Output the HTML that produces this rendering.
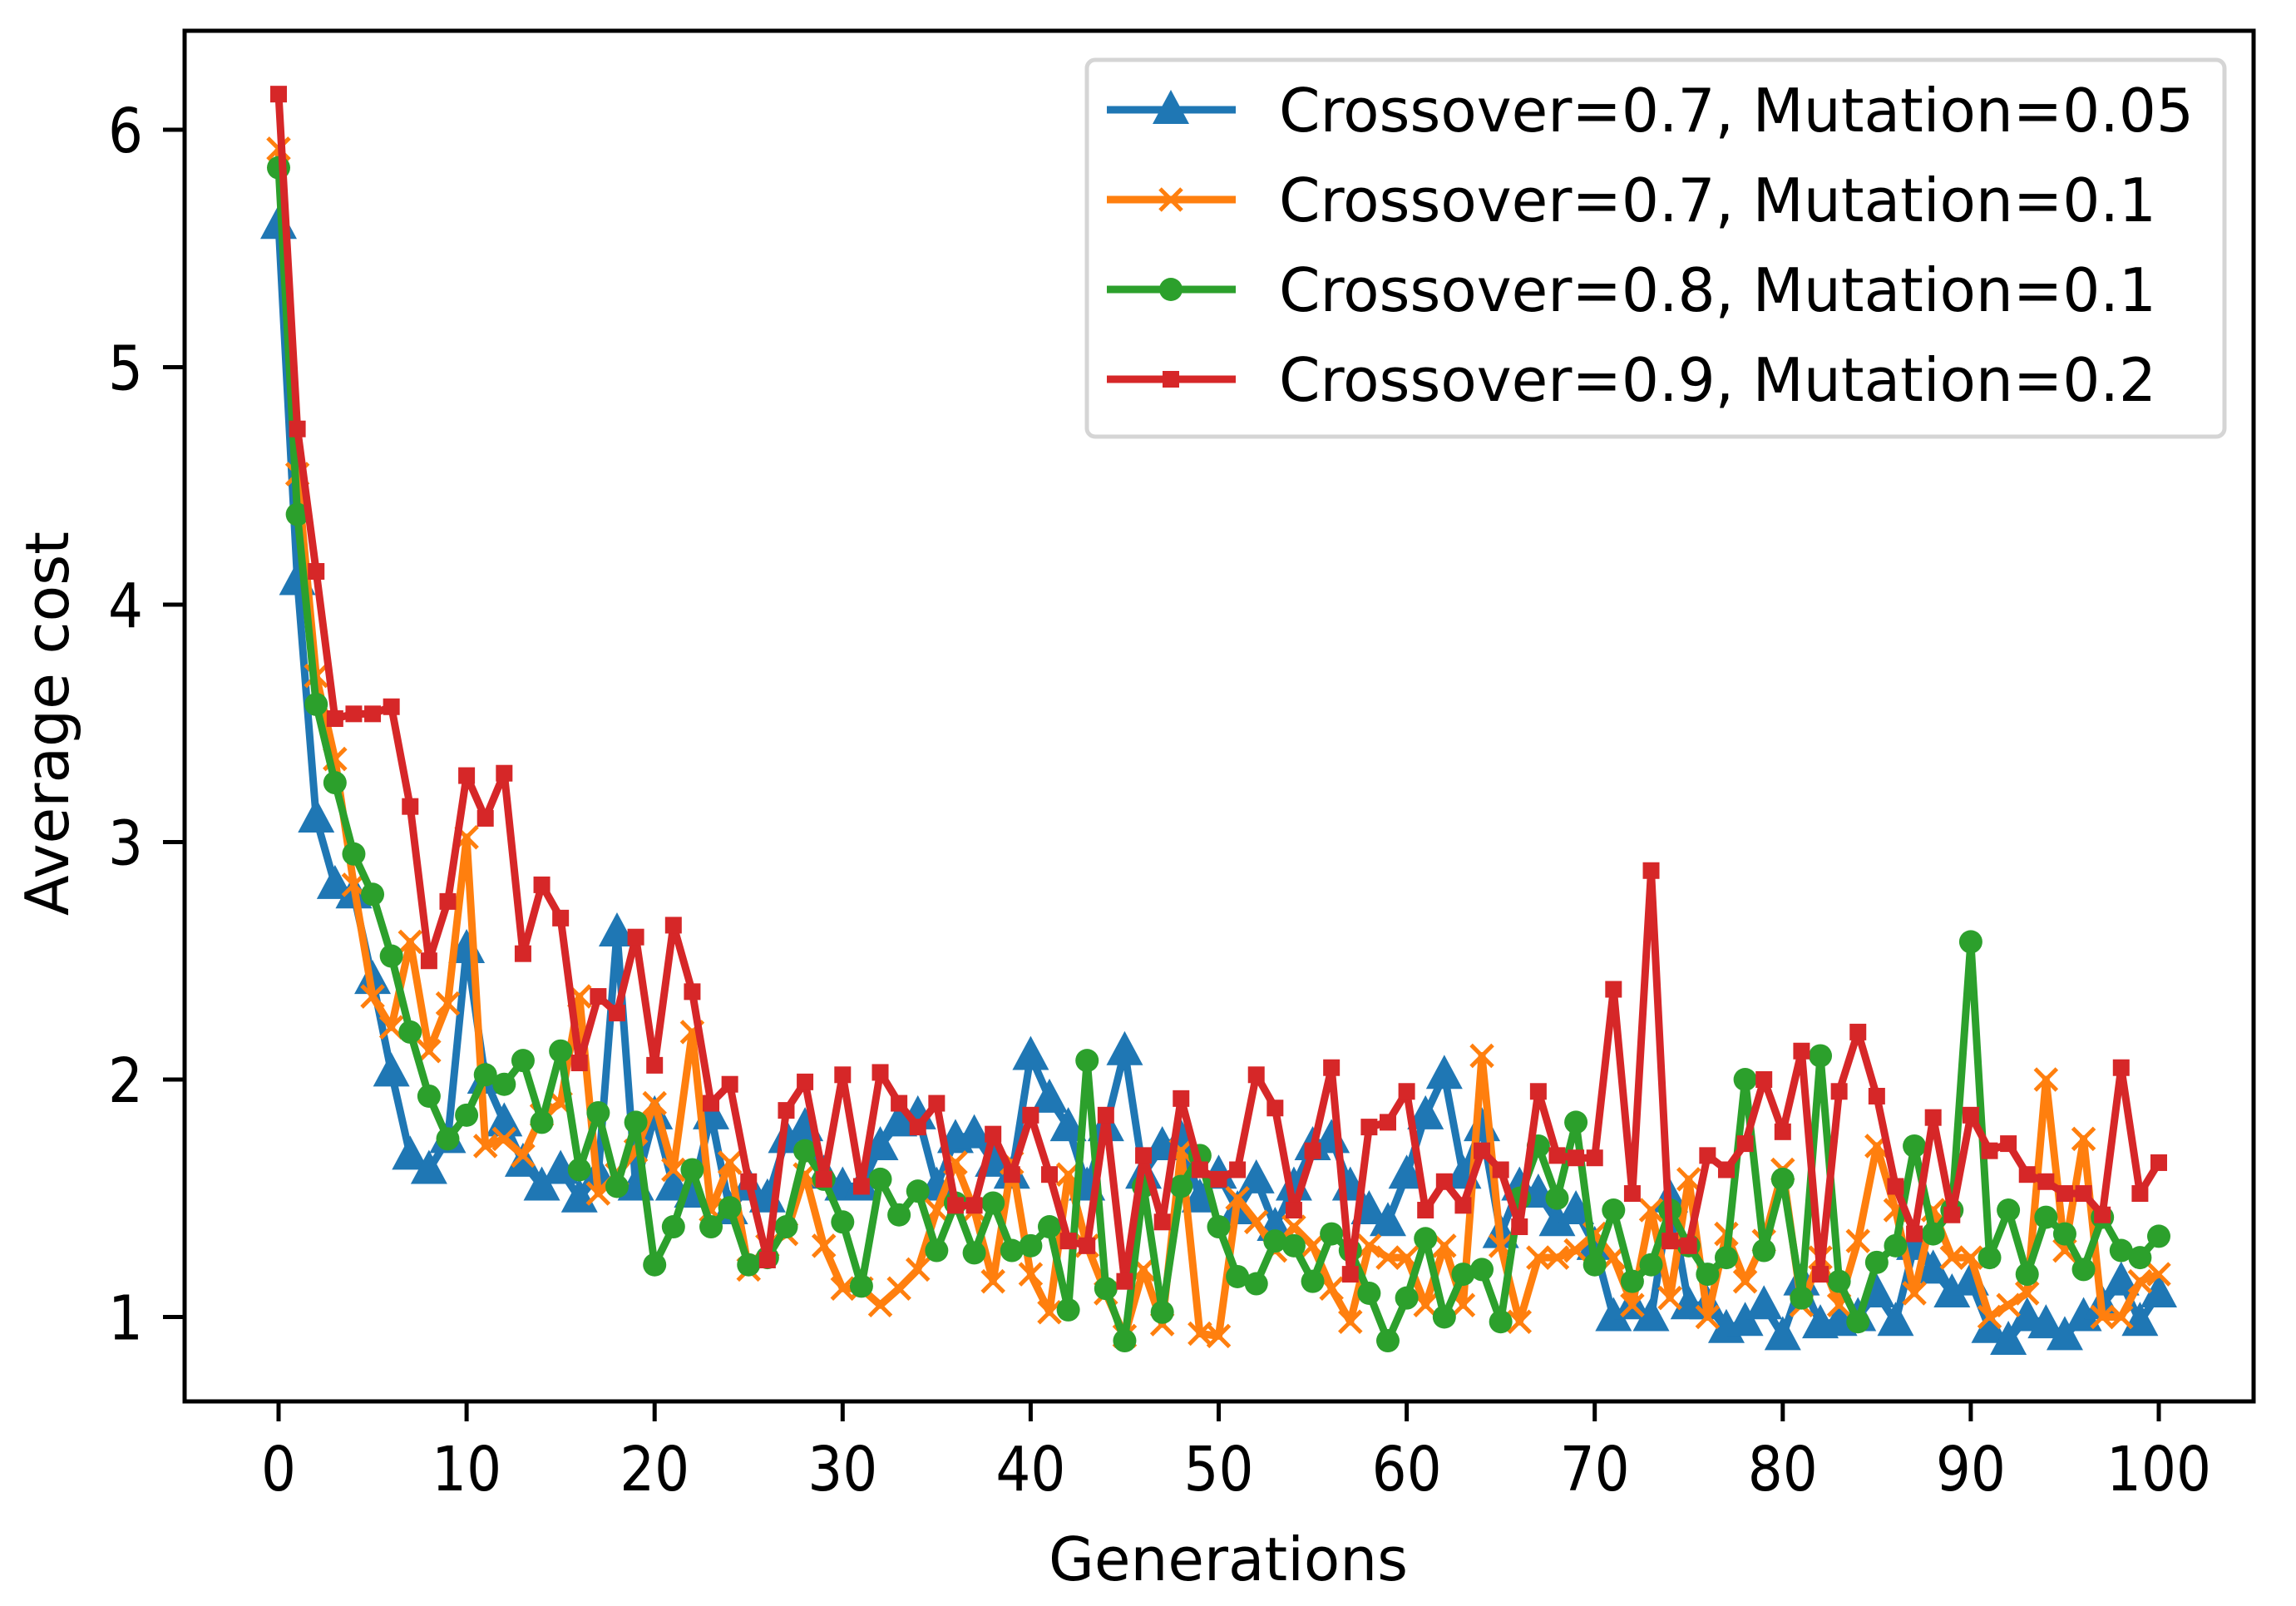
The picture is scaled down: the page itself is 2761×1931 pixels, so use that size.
<!DOCTYPE html>
<html><head><meta charset="utf-8"><style>
html,body{margin:0;padding:0;background:#fff;}
svg{display:block;}
text{font-family:"DejaVu Sans","Liberation Sans",sans-serif;fill:#000;}
</style></head><body>
<svg id="chart" width="2761" height="1931" viewBox="0 0 2761 1931" xmlns="http://www.w3.org/2000/svg">
<rect x="0" y="0" width="2761" height="1931" fill="#fff"/>
<g id="series"></g>
<rect x="222" y="37" width="2488" height="1648" fill="none" stroke="#000" stroke-width="5"/>
<g id="axes"></g>
<text x="1477" y="1900" font-size="72" text-anchor="middle" textLength="432" lengthAdjust="spacingAndGlyphs">Generations</text>
<text x="0" y="0" font-size="72" text-anchor="middle" textLength="462" lengthAdjust="spacingAndGlyphs" transform="translate(82,870) rotate(-90)">Average cost</text>
<g id="legend">
<rect x="1307" y="72" width="1368" height="453" rx="10" fill="#fff" fill-opacity="0.8" stroke="#d5d5d5" stroke-width="5"/>
</g>
</svg>
<script>
const generations = Array.from({length:101}, (_, i) => i);
const blueVals = [5.6,4.1,3.1,2.82,2.78,2.42,2.03,1.68,1.62,1.75,2.55,2.0,1.82,1.65,1.55,1.62,1.5,1.6,2.62,1.55,1.85,1.55,1.52,1.85,1.45,1.55,1.5,1.75,1.8,1.6,1.55,1.55,1.72,1.82,1.85,1.55,1.75,1.77,1.65,1.6,2.1,1.92,1.8,1.55,1.8,2.12,1.6,1.72,1.75,1.5,1.6,1.45,1.58,1.38,1.55,1.72,1.75,1.55,1.45,1.4,1.6,1.85,2.02,1.6,1.8,1.35,1.55,1.52,1.4,1.45,1.3,1.0,1.05,1.0,1.5,1.05,1.05,0.95,0.98,1.05,0.92,1.15,0.97,0.98,1.0,1.1,0.98,1.3,1.2,1.1,1.15,0.95,0.9,1.0,0.97,0.92,1.0,1.05,1.15,0.98,1.1];
const orangeVals = [5.92,4.55,3.7,3.35,2.82,2.35,2.22,2.58,2.12,2.32,3.02,1.72,1.75,1.68,1.85,1.9,2.35,1.52,1.6,1.7,1.9,1.62,2.2,1.45,1.65,1.2,1.3,1.35,1.6,1.3,1.12,1.12,1.05,1.12,1.2,1.45,1.65,1.45,1.15,1.65,1.18,1.02,1.6,1.3,1.1,0.92,1.2,0.97,1.7,0.93,0.92,1.5,1.4,1.28,1.38,1.3,1.12,0.98,1.3,1.25,1.25,1.05,1.3,1.05,2.1,1.3,0.98,1.25,1.25,1.28,1.35,1.25,1.05,1.45,1.08,1.58,1.0,1.35,1.15,1.32,1.62,1.05,1.25,1.05,1.32,1.72,1.45,1.1,1.45,1.25,1.25,1.0,1.05,1.1,2.0,1.28,1.75,1.0,1.0,1.15,1.18];
const greenVals = [5.84,4.38,3.58,3.25,2.95,2.78,2.52,2.2,1.93,1.75,1.85,2.02,1.98,2.08,1.82,2.12,1.62,1.86,1.55,1.82,1.22,1.38,1.62,1.38,1.46,1.22,1.25,1.38,1.7,1.58,1.4,1.13,1.58,1.43,1.53,1.28,1.48,1.27,1.48,1.28,1.3,1.38,1.03,2.08,1.12,0.9,1.55,1.02,1.55,1.68,1.38,1.17,1.14,1.32,1.3,1.15,1.35,1.28,1.1,0.9,1.08,1.33,1.0,1.18,1.2,0.98,1.5,1.72,1.5,1.82,1.22,1.45,1.15,1.22,1.45,1.3,1.18,1.25,2.0,1.28,1.58,1.08,2.1,1.15,0.98,1.23,1.3,1.72,1.35,1.45,2.58,1.25,1.45,1.18,1.42,1.35,1.2,1.42,1.28,1.25,1.34];
const redVals = [6.15,4.74,4.14,3.52,3.54,3.54,3.57,3.15,2.5,2.75,3.28,3.1,3.29,2.53,2.82,2.68,2.07,2.35,2.28,2.6,2.06,2.65,2.37,1.9,1.98,1.57,1.24,1.87,1.99,1.58,2.02,1.55,2.03,1.9,1.8,1.9,1.47,1.47,1.77,1.6,1.85,1.6,1.32,1.3,1.85,1.15,1.68,1.4,1.92,1.62,1.58,1.62,2.02,1.88,1.45,1.7,2.05,1.18,1.8,1.82,1.95,1.45,1.57,1.47,1.7,1.62,1.38,1.95,1.68,1.67,1.67,2.38,1.52,2.88,1.32,1.3,1.68,1.62,1.73,2.0,1.78,2.12,1.18,1.95,2.2,1.93,1.55,1.35,1.84,1.43,1.85,1.7,1.73,1.6,1.57,1.52,1.52,1.43,2.05,1.52,1.65];
const xTicks = [0,10,20,30,40,50,60,70,80,90,100];
const yTicks = [1,2,3,4,5,6];
const seriesLabels = ["Crossover=0.7, Mutation=0.05","Crossover=0.7, Mutation=0.1","Crossover=0.8, Mutation=0.1","Crossover=0.9, Mutation=0.2"];

const NS = "http://www.w3.org/2000/svg";
const xS = v => 335 + v * 22.61;
const yS = v => 156 + (6 - v) * 285.5;
function mk(tag, attrs, parent){ const e = document.createElementNS(NS, tag); for (const k in attrs) e.setAttribute(k, attrs[k]); parent.appendChild(e); return e; }

const axes = document.getElementById('axes');
xTicks.forEach(t => {
  const l = mk('line', {x1:xS(t), x2:xS(t), y1:1685, y2:1709, stroke:'#000', 'stroke-width':5}, axes);
  
  
  const tx = mk('text', {x:xS(t), y:1792, 'font-size':74, 'text-anchor':'middle', textLength:(String(t).length*42), lengthAdjust:'spacingAndGlyphs'}, axes);
  tx.textContent = t;
  
  
});
yTicks.forEach(t => {
  const l = mk('line', {x1:196, x2:222, y1:yS(t), y2:yS(t), stroke:'#000', 'stroke-width':5}, axes);
  
  
  const tx = mk('text', {x:172, y:yS(t)+27, 'font-size':74, 'text-anchor':'end', textLength:42, lengthAdjust:'spacingAndGlyphs'}, axes);
  tx.textContent = t;
  
  
});

const colors = ['#1f77b4','#ff7f0e','#2ca02c','#d62728'];
const allVals = [blueVals, orangeVals, greenVals, redVals];
const markerTypes = ['tri','x','circle','square'];
function marker(type, cx, cy, color, parent){
  let m;
  if (type === 'tri') m = mk('polygon', {points:`${cx},${cy-24} ${cx-22},${cy+17} ${cx+22},${cy+17}`, fill:color}, parent);
  else if (type === 'x') m = mk('path', {d:`M${cx-13},${cy-13}L${cx+13},${cy+13}M${cx-13},${cy+13}L${cx+13},${cy-13}`, stroke:color, 'stroke-width':5, fill:'none'}, parent);
  else if (type === 'circle') m = mk('circle', {cx:cx, cy:cy, r:14, fill:color}, parent);
  else m = mk('rect', {x:cx-10, y:cy-10, width:20, height:20, fill:color}, parent);
  return m;
}
const sg = document.getElementById('series');
allVals.forEach((vals, s) => {
  const g = mk('g', {}, sg);
  
  
  const pts = vals.map((v,i) => xS(generations[i]) + ',' + yS(v)).join(' ');
  const pl = mk('polyline', {points:pts, fill:'none', stroke:colors[s], 'stroke-width':9, 'stroke-linejoin':'round'}, g);
  
  
  vals.forEach((v,i) => {
    const m = marker(markerTypes[s], xS(generations[i]), yS(v), colors[s], g);
    
    
  });
});

const lg = document.getElementById('legend');
const legendY = [132, 240, 348, 456];
seriesLabels.forEach((lab, s) => {
  const y = legendY[s];
  const ln = mk('line', {x1:1331, x2:1486, y1:y, y2:y, stroke:colors[s], 'stroke-width':9}, lg);
  
  
  const m = marker(markerTypes[s], 1408, y, colors[s], lg);
  
  
  const t = mk('text', {x:1538, y:y+26, 'font-size':72, textLength:(s===0?1100:1055), lengthAdjust:'spacingAndGlyphs'}, lg);
  t.textContent = lab;
  
  
});
</script>
</body></html>
